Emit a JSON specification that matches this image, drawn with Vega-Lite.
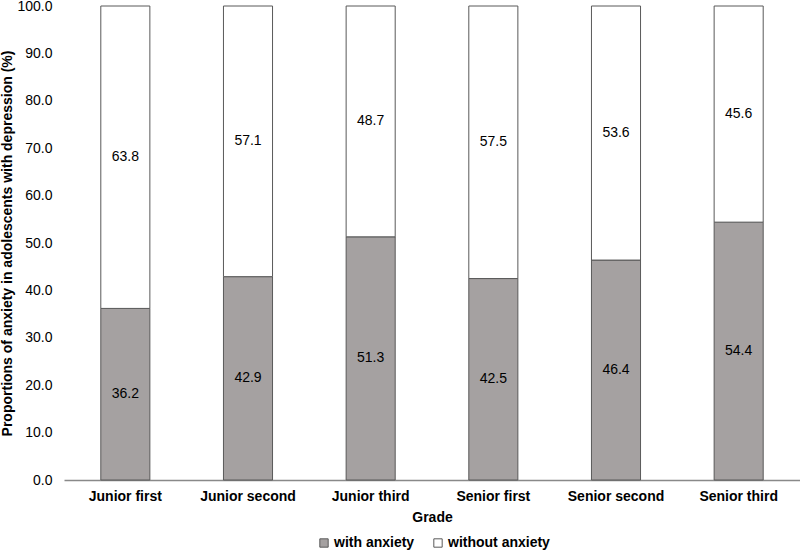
{
  "$schema": "https://vega.github.io/schema/vega-lite/v6.json",
  "width": 736,
  "height": 474,
  "autosize": {"type": "none"},
  "padding": {"left": 64, "top": 6, "right": 0, "bottom": 72},
  "background": "white",
  "config": {
    "font": "Liberation Sans",
    "view": {"stroke": null},
    "axis": {"labelFont": "Liberation Sans", "titleFont": "Liberation Sans", "labelColor": "#000000", "titleColor": "#000000"},
    "axisY": {
      "titleFontSize": 14, "titleFontWeight": "bold", "titlePadding": 2,
      "labelFontSize": 14, "labelPadding": 12, "format": ".1f",
      "values": [0, 10, 20, 30, 40, 50, 60, 70, 80, 90, 100],
      "domain": false, "ticks": false, "grid": false
    }
  },
  "data": {
    "values": [
      {"grade": "Junior first", "group": "with anxiety", "order": 1, "value": 36.2},
      {"grade": "Junior first", "group": "without anxiety", "order": 2, "value": 63.8},
      {"grade": "Junior second", "group": "with anxiety", "order": 1, "value": 42.9},
      {"grade": "Junior second", "group": "without anxiety", "order": 2, "value": 57.1},
      {"grade": "Junior third", "group": "with anxiety", "order": 1, "value": 51.3},
      {"grade": "Junior third", "group": "without anxiety", "order": 2, "value": 48.7},
      {"grade": "Senior first", "group": "with anxiety", "order": 1, "value": 42.5},
      {"grade": "Senior first", "group": "without anxiety", "order": 2, "value": 57.5},
      {"grade": "Senior second", "group": "with anxiety", "order": 1, "value": 46.4},
      {"grade": "Senior second", "group": "without anxiety", "order": 2, "value": 53.6},
      {"grade": "Senior third", "group": "with anxiety", "order": 1, "value": 54.4},
      {"grade": "Senior third", "group": "without anxiety", "order": 2, "value": 45.6}
    ]
  },
  "transform": [
    {"stack": "value", "groupby": ["grade"], "sort": [{"field": "order", "order": "ascending"}], "as": ["y0", "y1"]},
    {"calculate": "(datum.y0 + datum.y1) / 2", "as": "mid"}
  ],
  "encoding": {
    "x": {
      "field": "grade", "type": "nominal", "sort": null,
      "scale": {"paddingInner": 0.6, "paddingOuter": 0.3},
      "axis": {
        "title": "Grade", "labelAngle": 0, "labelFontSize": 14, "labelFontWeight": "bold",
        "titleFontSize": 14, "titleFontWeight": "bold", "ticks": false,
        "domainColor": "#898989", "domainWidth": 1.5, "labelPadding": 9, "titlePadding": 7
      }
    }
  },
  "layer": [
    {
      "mark": {"type": "bar", "stroke": "#595959", "strokeWidth": 1},
      "encoding": {
        "y": {
          "field": "y0", "type": "quantitative",
          "scale": {"domain": [0, 100]},
          "axis": {"title": "Proportions of anxiety in adolescents with depression (%)"}
        },
        "y2": {"field": "y1"},
        "fill": {
          "field": "group", "type": "nominal",
          "scale": {"domain": ["with anxiety", "without anxiety"], "range": ["#a5a1a1", "#ffffff"]},
          "legend": {
            "title": null, "orient": "none", "direction": "horizontal",
            "legendX": 253, "legendY": 530, "symbolType": "square", "symbolSize": 70,
            "symbolStrokeColor": "#595959", "symbolStrokeWidth": 1,
            "labelFontSize": 14, "labelFontWeight": "bold", "labelColor": "#000000",
            "labelOffset": 3, "columnPadding": 16
          }
        }
      }
    },
    {
      "mark": {"type": "text", "fontSize": 14, "color": "#000000", "baseline": "middle"},
      "encoding": {
        "y": {"field": "mid", "type": "quantitative", "axis": {"title": "Proportions of anxiety in adolescents with depression (%)"}},
        "text": {"field": "value", "type": "quantitative", "format": ".1f"}
      }
    }
  ]
}
